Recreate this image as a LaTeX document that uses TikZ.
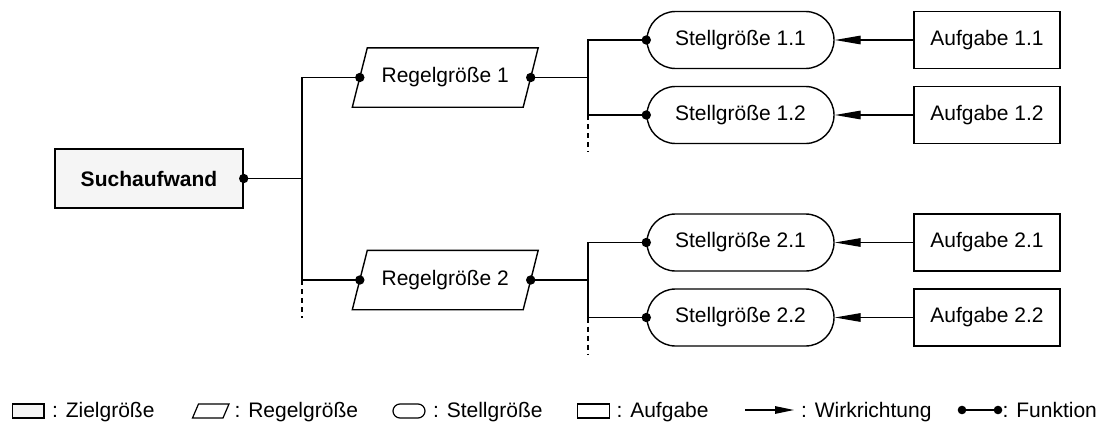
\documentclass[tikz,border=0pt]{standalone}
\usepackage{fontspec}
\setmainfont{Liberation Sans}
\usetikzlibrary{arrows.meta,shapes.misc,calc}
\definecolor{zielfill}{HTML}{F5F5F5}
\tikzset{
  txt/.style={font=\fontsize{21}{25}\selectfont, inner sep=0pt},
  edgeline/.style={line width=1.4pt, draw=black},
  zielbox/.style={edgeline, fill=zielfill, rectangle, minimum width=188pt, minimum height=59pt,
                  txt, font=\fontsize{21}{25}\selectfont\bfseries},
  % frame of a Regelgroesse; its slanted outline is drawn around it
  regelbox/.style={rectangle, minimum width=170.5pt, minimum height=59pt, txt},
  stellbox/.style={edgeline, rounded rectangle, minimum width=187pt, minimum height=57pt, txt},
  aufgbox/.style={edgeline, rectangle, minimum width=146pt, minimum height=57pt, txt},
  link/.style={line width=1.4pt},
  pending/.style={link, dash pattern=on 5pt off 4pt},
  effect/.style={link, -{Triangle[length=26pt,width=8.5pt]}},
  legline/.style={line width=1.2pt, draw=black},
  legtxt/.style={txt, anchor=base west},
}
\newcommand{\fdot}[1]{\fill (#1) circle (4.7pt);}
\newcommand{\slantframe}[1]{%
  \draw[edgeline] ($(#1.north west)+(7.5,0)$) -- ($(#1.north east)+(7.5,0)$)
    -- ($(#1.south east)+(-7.5,0)$) -- ($(#1.south west)+(-7.5,0)$) -- cycle;}
\begin{document}
\begin{tikzpicture}[x=1pt,y=-1pt]
\useasboundingbox (0,0) rectangle (1101,423);

% target value
\node[zielbox] (ziel) at (149,178.5) {Suchaufwand};

% controlled variables
\node[regelbox] (r1) at (445.25,77.5) {Regelgröße 1};
\node[regelbox] (r2) at (445.25,280) {Regelgröße 2};
\slantframe{r1}
\slantframe{r2}

% manipulated variables
\node[stellbox] (s11) at (740.5,40)    {Stellgröße 1.1};
\node[stellbox] (s12) at (740.5,115)   {Stellgröße 1.2};
\node[stellbox] (s21) at (740.5,242.5) {Stellgröße 2.1};
\node[stellbox] (s22) at (740.5,317.5) {Stellgröße 2.2};

% tasks
\node[aufgbox] (a11) at (987,40)    {Aufgabe 1.1};
\node[aufgbox] (a12) at (987,115)   {Aufgabe 1.2};
\node[aufgbox] (a21) at (987,242.5) {Aufgabe 2.1};
\node[aufgbox] (a22) at (987,317.5) {Aufgabe 2.2};

% trunk lines of the tree
\coordinate (t0) at (302,0);
\coordinate (t1) at (588,0);
\coordinate (e0) at (302,318);
\coordinate (e1) at (588,152);
\coordinate (e2) at (588,355);

\draw[link] (ziel.east) -- (ziel.east -| t0);
\draw[link] (r1.west) -- (r1.west -| t0) -- (r2.west -| t0) -- (r2.west);
\draw[pending] (r2.west -| t0) -- (e0);

\draw[link] (r1.east) -- (r1.east -| t1);
\draw[link] (s11.west) -- (s11.west -| t1) -- (s12.west -| t1) -- (s12.west);
\draw[pending] (s12.west -| t1) -- (e1);

\draw[link] (r2.east) -- (r2.east -| t1);
\draw[link] (s21.west) -- (s21.west -| t1) -- (s22.west -| t1) -- (s22.west);
\draw[pending] (s22.west -| t1) -- (e2);

% function dots
\fdot{ziel.east}
\fdot{r1.west} \fdot{r1.east}
\fdot{r2.west} \fdot{r2.east}
\fdot{s11.west} \fdot{s12.west} \fdot{s21.west} \fdot{s22.west}

% direction of effect
\draw[effect] (a11.west) -- (s11.east);
\draw[effect] (a12.west) -- (s12.east);
\draw[effect] (a21.west) -- (s21.east);
\draw[effect] (a22.west) -- (s22.east);

% legend
\draw[legline, fill=zielfill] (12.5,404) rectangle (44,418);
\node[legtxt] (lz) at (52,417.5) {: Zielgröße};
\draw[legline] (198.5,404) -- (229,404) -- (223,418) -- (192.5,418) -- cycle;
\node[legtxt] (lr) at (234.5,417.5) {: Regelgröße};
\draw[legline, rounded corners=7pt] (393,404) rectangle (425,418);
\node[legtxt] (ls) at (433,417.5) {: Stellgröße};
\draw[legline] (577.5,404) rectangle (609.5,418);
\node[legtxt] (la) at (616.5,417.5) {: Aufgabe};
\coordinate (w0) at (745,410);
\coordinate (w1) at (794,410);
\draw[line width=1.2pt, -{Triangle[length=19pt,width=7.5pt]}] (w0) -- (w1);
\node[legtxt] (lw) at (801,417.5) {: Wirkrichtung};
\coordinate (f0) at (962,410);
\coordinate (f1) at (998,410);
\draw[line width=1.2pt] (f0) -- (f1);
\fill (f0) circle (4.3pt);
\fill (f1) circle (4.3pt);
\node[legtxt] (lf) at (1002.5,417.5) {: Funktion};
\end{tikzpicture}
\end{document}
